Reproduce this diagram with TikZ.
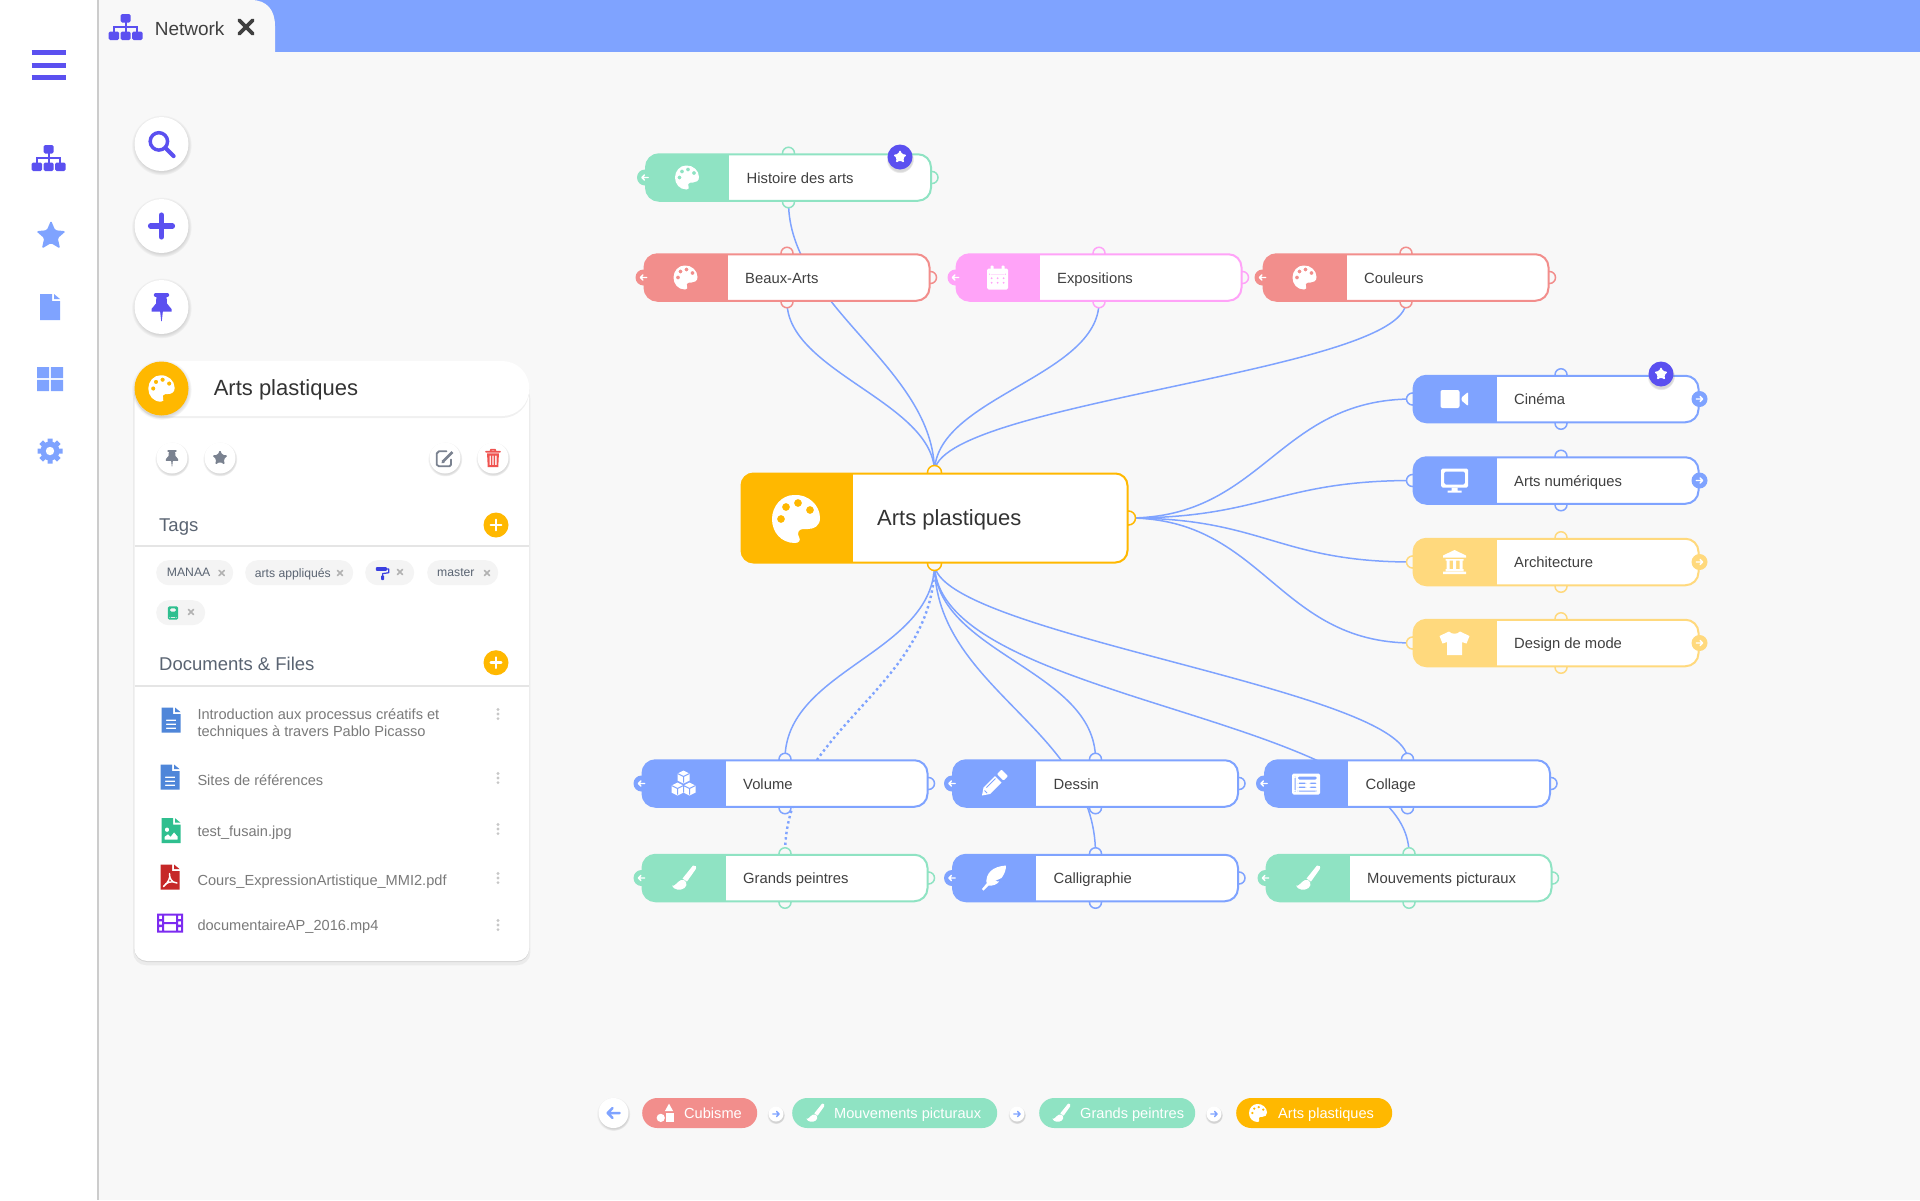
\documentclass[tikz,border=0pt]{standalone}
\usepackage{fontspec}
\setmainfont{Liberation Sans}
\usetikzlibrary{shadows}
\pgfdeclarelayer{links}
\pgfdeclarelayer{bumps}
\pgfsetlayers{links,bumps,main}
\definecolor{pagebg}{HTML}{F8F8F8}
\definecolor{mapblue}{HTML}{7FA3FF}
\definecolor{indigo}{HTML}{5B50F0}
\definecolor{mapgreen}{HTML}{8FE3C3}
\definecolor{mapred}{HTML}{F28E8C}
\definecolor{mappink}{HTML}{FFA3F8}
\definecolor{mapyellow}{HTML}{FFD97D}
\definecolor{amber}{HTML}{FFB800}
\definecolor{inktext}{HTML}{404040}
\definecolor{slatetext}{HTML}{5A6472}
\definecolor{filetext}{HTML}{7A7A7A}
\definecolor{chipgray}{HTML}{F4F4F4}
\definecolor{graybtn}{HTML}{7A8290}
\definecolor{docblue}{HTML}{4F86D9}
\definecolor{docgreen}{HTML}{2FBF8F}
\definecolor{docred}{HTML}{C62828}
\definecolor{docfilm}{HTML}{7C2BF0}
\definecolor{trashred}{HTML}{EF5350}
\definecolor{rollblue}{HTML}{3A3FE0}
\newcommand{\fsize}[1]{\fontsize{#1}{#1}\selectfont}
\def\icsize{1}
\tikzset{
	maplink/.style = {draw = mapblue, line width = 1.5pt},
	mapdots/.style = {draw = mapblue, line width = 2.4pt, dash pattern = on 2.4pt off 3pt},
	mapbox/.style 2 args = {rectangle, rounded corners = 13pt, inner sep = 0pt, minimum width = 285pt, minimum height = 46.5pt,
		fill = white, draw = #1, line width = 2pt,
		path picture = {\fill[#1, sharp corners] (path picture bounding box.south west) rectangle ([xshift = #2]path picture bounding box.north west);}},
	bump/.style = {circle, inner sep = 0pt, minimum size = 12pt, fill = pagebg, draw = #1, line width = 1.5pt},
	markdot/.style = {circle, inner sep = 0pt, minimum size = 16pt, fill = #1},
	maptext/.style = {anchor = west, inner sep = 0pt, text = inktext, font = \fsize{14.8}, text height = 11.6pt, text depth = 0pt},
	badge/.style = {circle, inner sep = 0pt, minimum size = 25pt, fill = indigo,
		circular drop shadow = {shadow scale = 1.12, shadow xshift = 0pt, shadow yshift = -2pt, opacity = .3}},
	roundbtn/.style = {circle, inner sep = 0pt, minimum size = #1, fill = white,
		circular drop shadow = {shadow scale = 1.12, shadow xshift = 0pt, shadow yshift = -1pt, opacity = .3}},
	plusdot/.style = {circle, inner sep = 0pt, minimum size = 25pt, fill = amber},
	paneltext/.style = {anchor = west, inner sep = 0pt, text = slatetext, font = \fsize{18.5}, text height = 13pt, text depth = 0pt},
	chip/.style = {anchor = west, rectangle, rounded corners = 12.5pt, inner sep = 0pt, minimum height = 25pt, fill = chipgray},
	chiptext/.style = {anchor = west, inner sep = 0pt, text = slatetext, font = \fsize{12.2}, text height = 8.8pt, text depth = 0pt},
	filename/.style = {anchor = west, inner sep = 0pt, text = filetext, font = \fsize{14.6}, text height = 10.5pt, text depth = 0pt},
	crumb/.style = {anchor = west, rectangle, rounded corners = 15pt, inner sep = 0pt, minimum height = 30pt, fill = #1},
	crumbtext/.style = {anchor = west, inner sep = 0pt, text = white, font = \fsize{14.6}, text height = 10.5pt, text depth = 0pt},
	crumbstep/.style = {circle, inner sep = 0pt, minimum size = 15pt, fill = white,
		circular drop shadow = {shadow scale = 1.18, shadow xshift = 0pt, shadow yshift = -1pt, opacity = .3}},
	% icons, all drawn in a box of about 24 by 24
	ic/.style = {scale = #1, /utils/exec = {\def\icsize{#1}}},
	lw/.style = {line width = #1*\icsize*1pt, line cap = round, line join = round},
	i-palette/.pic = {\fill[even odd rule] (-1, -12) .. controls (6, -12.5) and (12, -7) .. (12, -0.5) .. controls (12, 3.5) and (9, 5) .. (6, 5)
		-- (3.5, 5) .. controls (1, 5) and (0.5, 7.5) .. (1.5, 9) .. controls (2.5, 10.5) and (1.5, 12) .. (-0.5, 12)
		.. controls (-7.5, 12) and (-12, 6.5) .. (-12, 0) .. controls (-12, -6.5) and (-7, -12) .. (-1, -12) -- cycle
		(-7.5, 0) circle [radius = 2] (-5, -6) circle [radius = 2] (1, -8) circle [radius = 2] (7, -4.5) circle [radius = 2];},
	i-sitemap/.pic = {\fill[rounded corners = 1.5] (-5, -13) rectangle (5, -4.5) (-17, 4.5) rectangle (-6.5, 13) (-5, 4.5) rectangle (5, 13) (6.5, 4.5) rectangle (17, 13);
		\draw[line width = 2*\icsize*1pt] (0, -5) -- (0, 5) (-11.5, 5) -- (-11.5, 0) -- (11.5, 0) -- (11.5, 5);},
	i-star/.pic = {\fill[rounded corners = 1.5] (-90:13.5) -- (-54:6.2) -- (-18:13.5) -- (18:6.2) -- (54:13.5) -- (90:6.2) -- (126:13.5) -- (162:6.2) -- (198:13.5) -- (234:6.2) -- cycle;},
	i-file/.pic = {\fill[even odd rule] (-10, -13) -- (2, -13) -- (2, -6) -- (10, -6) -- (10, 13) -- (-10, 13) -- cycle;
		\fill (4, -13) -- (10, -8) -- (4, -8) -- cycle;},
	i-doc/.pic = {\fill[even odd rule] (-9.5, -12.5) -- (2, -12.5) -- (2, -6) -- (9.5, -6) -- (9.5, 12.5) -- (-9.5, 12.5) -- cycle
		(-5, -0.5) rectangle (5, 1) (-5, 3.5) rectangle (5, 5) (-5, 7.5) rectangle (5, 9);
		\fill (4, -12.5) -- (9.5, -8) -- (4, -8) -- cycle;},
	i-docimg/.pic = {\fill[even odd rule] (-9.5, -12.5) -- (2, -12.5) -- (2, -6) -- (9.5, -6) -- (9.5, 12.5) -- (-9.5, 12.5) -- cycle
		(-4, -1) circle [radius = 2.3] (-6.5, 9) -- (-6.5, 6) -- (-3, 3.5) -- (-0.5, 6) -- (3, 1.5) -- (6.5, 5.5) -- (6.5, 9) -- cycle;
		\fill (4, -12.5) -- (9.5, -8) -- (4, -8) -- cycle;},
	i-docpdf/.pic = {\fill (-9.5, -12.5) -- (2, -12.5) -- (2, -6) -- (9.5, -6) -- (9.5, 12.5) -- (-9.5, 12.5) -- cycle;
		\fill (4, -12.5) -- (9.5, -8) -- (4, -8) -- cycle;
		\draw[white, lw = 1.4] (-6.5, 9.5) .. controls (-2, 6) and (1, 0) .. (-0.5, -3.5) .. controls (-1, 1) and (2, 6) .. (7, 6) .. controls (2, 3.5) and (-4, 5) .. (-6.5, 9.5);},
	i-grid/.pic = {\fill (-13, -12) rectangle (-0.8, -0.8) (0.8, -12) rectangle (13, -0.8) (-13, 0.8) rectangle (-0.8, 12) (0.8, 0.8) rectangle (13, 12);},
	i-cog/.pic = {\draw[line width = 5*\icsize*1pt] (0:12.5) -- (180:12.5) (45:12.5) -- (225:12.5) (90:12.5) -- (270:12.5) (135:12.5) -- (315:12.5);
		\fill (0, 0) circle [radius = 9.5];
		\fill[white] (0, 0) circle [radius = 4.2];},
	i-search/.pic = {\draw[lw = 3.3] (-2.5, -2.5) circle [radius = 8.3];
		\draw[lw = 4] (3.8, 3.8) -- (11.5, 11.5);},
	i-plus/.pic = {\draw[lw = 4.6] (-9.5, 0) -- (9.5, 0) (0, -9.5) -- (0, 9.5);},
	i-pin/.pic = {\draw[lw = 3.4] (-6, -12) -- (6, -12);
		\fill (-5, -12) -- (5, -12) -- (5.5, -3.5) -- (10, 2) -- (10, 4.5) -- (-10, 4.5) -- (-10, 2) -- (-5.5, -3.5) -- cycle;
		\fill (-1.4, 4) -- (1.4, 4) -- (0.3, 14) -- (-0.3, 14) -- cycle;},
	i-bars/.pic = {\draw[line width = 5*\icsize*1pt, rounded corners = 1] (-17, -12.5) -- (17, -12.5) (-17, 0) -- (17, 0) (-17, 12.5) -- (17, 12.5);},
	i-times/.pic = {\draw[lw = 5] (-9, -9) -- (9, 9) (-9, 9) -- (9, -9);},
	i-left/.pic = {\draw[lw = 4] (10, 0) -- (-9, 0) (-1.5, -8) -- (-9.5, 0) -- (-1.5, 8);},
	i-right/.pic = {\draw[lw = 4] (-10, 0) -- (9, 0) (1.5, -8) -- (9.5, 0) -- (1.5, 8);},
	i-edit/.pic = {\draw[lw = 2.4] (2, -9) -- (-8, -9) -- (-11, -6) -- (-11, 9) -- (-8, 11) -- (6, 11) -- (8, 9) -- (8, 2);
		\draw[line width = 3.6*\icsize*1pt] (-2.5, 4.5) -- (10, -8);
		\fill (-4.5, 7) -- (-4, 2.5) -- (-0.5, 6.5) -- cycle;},
	i-trash/.pic = {\fill[even odd rule] (-8.5, -6.5) -- (8.5, -6.5) -- (7.5, 13) -- (-7.5, 13) -- cycle
		(-5, -3.5) rectangle (-3, 10) (-1, -3.5) rectangle (1, 10) (3, -3.5) rectangle (5, 10);
		\draw[lw = 2.4] (-10, -9) -- (10, -9) (-3.5, -9) -- (-3, -12) -- (3, -12) -- (3.5, -9);},
	i-calendar/.pic = {\fill[even odd rule, rounded corners = 1.5] (-10.5, -9) rectangle (10.5, 12)
		(-8.5, -3.5) rectangle (8.5, -3)
		(-7.5, -0.5) rectangle (-4.5, 2) (-1.5, -0.5) rectangle (1.5, 2) (4.5, -0.5) rectangle (7.5, 2)
		(-7.5, 4) rectangle (-4.5, 6.5) (-1.5, 4) rectangle (1.5, 6.5) (4.5, 4) rectangle (7.5, 6.5);
		\fill[rounded corners = 0.8] (-7, -12) rectangle (-4, -7) (4, -12) rectangle (7, -7);},
	i-video/.pic = {\fill[rounded corners = 2] (-14, -9) rectangle (5, 9);
		\fill[rounded corners = 1] (7, -1.5) -- (13.5, -7) -- (13.5, 7) -- (7, 1.5) -- cycle;},
	i-desktop/.pic = {\fill[even odd rule, rounded corners = 1.5] (-13.5, -12) rectangle (13.5, 7) (-10.5, -9) rectangle (10.5, 4);
		\fill (-3, 7) rectangle (3, 10) (-7, 10) rectangle (7, 12);},
	i-bank/.pic = {\fill (0, -12) -- (11.5, -6.5) -- (11.5, -4.5) -- (-11.5, -4.5) -- (-11.5, -6.5) -- cycle;
		\fill (-9, -3) rectangle (9, -1.5) (-8, -1.5) rectangle (-5, 7) (-1.5, -1.5) rectangle (1.5, 7) (5, -1.5) rectangle (8, 7) (-9, 7) rectangle (9, 9) (-11.5, 9.5) rectangle (11.5, 12);},
	i-shirt/.pic = {\fill (-5.5, -11.5) .. controls (-3, -8.5) and (3, -8.5) .. (5.5, -11.5) -- (15, -7) -- (12, 0.5) -- (7.5, -1) -- (7.5, 12) -- (-7.5, 12) -- (-7.5, -1) -- (-12, 0.5) -- (-15, -7) -- cycle;},
	i-cubes/.pic = {\fill (0, -13) -- (6, -10) -- (6, -3) -- (0, 0) -- (-6, -3) -- (-6, -10) -- cycle
		(-6, -1) -- (0, 2) -- (0, 9) -- (-6, 12) -- (-12, 9) -- (-12, 2) -- cycle
		(6, -1) -- (12, 2) -- (12, 9) -- (6, 12) -- (0, 9) -- (0, 2) -- cycle;
		\draw[mapblue, line width = 1*\icsize*1pt] (-6, -10) -- (0, -7) -- (6, -10) (0, -7) -- (0, -1) (-12, 2) -- (-6, 5) -- (0, 2) (-6, 5) -- (-6, 11) (0, 2) -- (6, 5) -- (12, 2) (6, 5) -- (6, 11) (0, 2) -- (0, 9);},
	i-pencil/.pic = {\fill (-12, 12) -- (-10.5, 4) -- (1, -7.5) -- (7.5, -1) -- (-4, 10.5) -- cycle;
		\fill[rounded corners = 1] (3, -9.5) -- (7.5, -14) -- (14, -7.5) -- (9.5, -3) -- cycle;
		\draw[mapblue, line width = 0.9*\icsize*1pt] (-9.5, 7) -- (-7, 9.5) (-7.5, 4) -- (1.5, -5);},
	i-newspaper/.pic = {\fill[even odd rule, rounded corners = 1.5] (-14, -10) rectangle (14, 11)
		(-8.5, -7) rectangle (11, -4) (-8.5, -1) rectangle (0.5, 0.5) (3, -1) rectangle (11, 0.5)
		(-8.5, 3) rectangle (0.5, 4.5) (3, 3) rectangle (11, 4.5) (-8.5, 7) rectangle (11, 8) (-11.5, -7) rectangle (-10.5, 8);},
	i-brush/.pic = {\fill (9.5, -12.5) .. controls (12, -13.5) and (13.5, -11) .. (12, -8.5) -- (3.5, 3.5) -- (-1, 0.5) -- cycle;
		\fill (-2.5, 2) .. controls (2.5, 0.5) and (5, 7) .. (1, 10) .. controls (-3, 13) and (-10, 12) .. (-11.5, 7.5) .. controls (-8.5, 9) and (-7, 4) .. (-2.5, 2) -- cycle;},
	i-feather/.pic = {\fill (12, -12.5) .. controls (-2, -11.5) and (-8.5, -4.5) .. (-7.5, 5.5) -- (-12, 11) -- (-10.5, 12.5) -- (-5.5, 7.5) .. controls (-1, 8) and (3, 6.5) .. (5, 3.5) -- (1, 3) -- (7.5, 0) .. controls (10.5, -4) and (12, -8) .. (12, -12.5) -- cycle;},
	i-roller/.pic = {\fill[rounded corners = 1] (-10, -9) rectangle (8, -3);
		\draw[lw = 2] (8, -6) -- (11, -6) -- (11, 0) -- (1, 1.5) -- (1, 4);
		\fill[rounded corners = 1] (-1.5, 4) rectangle (3.5, 12);},
	i-book/.pic = {\fill[even odd rule, rounded corners = 1.5] (-9.5, -12) rectangle (9.5, 12) (-6, -8.5) rectangle (6, -2.5) (-6.5, 7) rectangle (6.5, 9);},
	i-film/.pic = {\fill[even odd rule] (-13, -9.5) rectangle (13, 9.5)
		(-11, -7.5) rectangle (-8, -4) (-11, -1.7) rectangle (-8, 1.7) (-11, 4) rectangle (-8, 7.5)
		(8, -7.5) rectangle (11, -4) (8, -1.7) rectangle (11, 1.7) (8, 4) rectangle (11, 7.5)
		(-6, -7.5) rectangle (6, -1) (-6, 1) rectangle (6, 7.5);},
	i-shapes/.pic = {\fill (4, -12.5) -- (9.5, -2.5) -- (-1.5, -2.5) -- cycle;
		\fill (-7, 6.5) circle [radius = 5.5];
		\fill (-0.5, -0.5) rectangle (10, 12);},
	i-dots/.pic = {\fill (0, -4.6) circle [radius = 1.6] (0, 0) circle [radius = 1.6] (0, 4.6) circle [radius = 1.6];},
}
% one box of the map: [top bump shift] name, x, y, colour, label, icon
\newcommand{\mapnode}[7][0]{%
	\node[mapbox = {#5}{83pt}] (#2) at (#3, #4) {};
	\node[maptext] (#2-label) at ([xshift = 101.5pt]#2.west) {#6};
	\pic[white, ic = 1] at ([xshift = 42pt]#2.west) {#7};
	\begin{pgfonlayer}{bumps}
		\node[bump = #5] (#2-n) at ([xshift = #1pt]#2.north) {};
		\node[bump = #5] (#2-s) at ([xshift = #1pt]#2.south) {};
		\node[bump = #5] (#2-w) at (#2.west) {};
		\node[bump = #5] (#2-e) at (#2.east) {};
	\end{pgfonlayer}}
\newcommand{\backmark}[2]{\node[markdot = #2] (#1-back) at (#1.west) {}; \pic[white, ic = .33] at (#1-back) {i-left};}
\newcommand{\nextmark}[2]{\node[markdot = #2] (#1-next) at (#1.east) {}; \pic[white, ic = .33] at (#1-next) {i-right};}
\begin{document}
\begin{tikzpicture}[x = 1pt, y = -1pt]
	\useasboundingbox (0, 0) rectangle (1920, 1200);
	\begin{pgfonlayer}{links}
		\fill[pagebg] (0, 0) rectangle (1920, 1200);
		% side bar and tab
		\fill[white] (0, 0) rectangle (97, 1200);
		\fill[black!20] (97, 0) rectangle (99, 1200);
		\fill[mapblue] (250, 0) rectangle (1920, 52);
		\fill[pagebg] (99, 0) -- (251, 0) .. controls (267, 0) and (275, 10) .. (275, 26) -- (275, 52) -- (99, 52) -- cycle;
	\end{pgfonlayer}
	\pic[indigo, ic = 1] at (48.6, 65) {i-bars};
	\pic[indigo, ic = 1] at (48.6, 158) {i-sitemap};
	\pic[mapblue, ic = 1.15] at (51, 236) {i-star};
	\pic[mapblue, ic = 1] at (50, 307) {i-file};
	\pic[mapblue, ic = 1] at (50, 379) {i-grid};
	\pic[mapblue, ic = 1] at (50, 451) {i-cog};
	\pic[indigo, ic = 1] at (125.7, 27) {i-sitemap};
	\node[anchor = west, inner sep = 0pt, text = inktext, font = \fsize{19}] (tabname) at (154.6, 28.5) {Network};
	\pic[inktext, ic = .75] at (246, 27) {i-times};
	% round tools
	\node[roundbtn = 54pt] (search) at (161.5, 144) {};
	\pic[indigo, ic = 1.05] at (search) {i-search};
	\node[roundbtn = 54pt] (add) at (161.5, 226) {};
	\pic[indigo, ic = 1.15] at (add) {i-plus};
	\node[roundbtn = 54pt] (pin) at (161.5, 307) {};
	\pic[indigo, ic = 1] at (pin) {i-pin};
	% panel
	\node[rectangle, rounded corners = 13pt, inner sep = 0pt, minimum width = 395pt, minimum height = 576pt, fill = white,
		drop shadow = {shadow xshift = 0pt, shadow yshift = -2.5pt, shadow scale = 1.006, opacity = .05, fill = black},
		drop shadow = {shadow xshift = 0pt, shadow yshift = -1pt, opacity = .1, fill = black}] (panel) at (331.75, 673) {};
	\node[rectangle, rounded corners = 27pt, inner sep = 0pt, minimum width = 395pt, minimum height = 55pt, fill = white,
		drop shadow = {shadow xshift = 0pt, shadow yshift = -2pt, opacity = .06, fill = black}] (panelhead) at (331.75, 388.5) {};
	\node[circle, inner sep = 0pt, minimum size = 54pt, fill = amber,
		circular drop shadow = {shadow scale = 1.12, shadow xshift = 0pt, shadow yshift = -1pt, opacity = .3}] (panelicon) at (161.5, 388.5) {};
	\pic[white, ic = 1.1] at (panelicon) {i-palette};
	\node[anchor = west, inner sep = 0pt, text = black!80, font = \fsize{22}] (paneltitle) at (213.6, 390) {Arts plastiques};
	\node[roundbtn = 31pt] (btnpin) at (172, 458) {};
	\pic[graybtn, ic = .62] at (btnpin) {i-pin};
	\node[roundbtn = 31pt] (btnstar) at (220, 458) {};
	\pic[graybtn, ic = .62] at (btnstar) {i-star};
	\node[roundbtn = 31pt] (btnedit) at (445, 458) {};
	\pic[graybtn, ic = .75] at (btnedit) {i-edit};
	\node[roundbtn = 31pt] (btntrash) at (493, 458) {};
	\pic[trashred, ic = .7] at (btntrash) {i-trash};
	% tags
	\node[paneltext] (tagstitle) at (159, 525) {Tags};
	\node[plusdot] (tagsadd) at (496, 525) {};
	\pic[white, ic = .55] at (tagsadd) {i-plus};
	\draw[black!10, line width = 1.2pt] (134.7, 546) -- (529, 546);
	\node[chip, minimum width = 77pt] (tagmanaa) at (156, 572.7) {};
	\node[chiptext] (tagmanaa-t) at (166.7, 572) {MANAA};
	\pic[black!30, ic = .3] at (221.7, 573) {i-times};
	\node[chip, minimum width = 108pt] (tagarts) at (245, 572.7) {};
	\node[chiptext] (tagarts-t) at (254.7, 573) {arts appliqués};
	\pic[black!30, ic = .3] at (340, 573) {i-times};
	\node[chip, minimum width = 49pt] (tagroll) at (365, 572.7) {};
	\pic[rollblue, ic = .62] at (382, 572.7) {i-roller};
	\pic[black!30, ic = .3] at (400, 572) {i-times};
	\node[chip, minimum width = 71pt] (tagmaster) at (427, 572.7) {};
	\node[chiptext] (tagmaster-t) at (437, 572) {master};
	\pic[black!30, ic = .3] at (487, 573) {i-times};
	\node[chip, minimum width = 49pt] (tagbook) at (156, 612.7) {};
	\pic[docgreen, ic = .55] at (173, 613) {i-book};
	\pic[black!30, ic = .3] at (191, 612) {i-times};
	% documents
	\node[paneltext] (docstitle) at (159, 664) {Documents \& Files};
	\node[plusdot] (docsadd) at (496, 662.7) {};
	\pic[white, ic = .55] at (docsadd) {i-plus};
	\draw[black!10, line width = 1.2pt] (134.7, 686) -- (529, 686);
	\pic[docblue] at (171, 720) {i-doc};
	\node[anchor = west, inner sep = 0pt, align = left, text = filetext, font = \fontsize{14.6}{17.2}\selectfont] (doc1) at (197.3, 724) {Introduction aux processus créatifs et\\techniques à travers Pablo Picasso};
	\pic[black!22] at (498, 714) {i-dots};
	\pic[docblue] at (170, 777) {i-doc};
	\node[filename] (doc2) at (197.3, 780) {Sites de références};
	\pic[black!22] at (498, 778) {i-dots};
	\pic[docgreen] at (171, 830.7) {i-docimg};
	\node[filename] (doc3) at (197.3, 831) {test\_fusain.jpg};
	\pic[black!22] at (498, 829) {i-dots};
	\pic[docred] at (170, 877) {i-docpdf};
	\node[filename] (doc4) at (197.3, 880) {Cours\_ExpressionArtistique\_MMI2.pdf};
	\pic[black!22] at (498, 878) {i-dots};
	\pic[docfilm] at (170, 923) {i-film};
	\node[filename] (doc5) at (197.3, 925) {documentaireAP\_2016.mp4};
	\pic[black!22] at (498, 925) {i-dots};
	% the map boxes
	\node[mapbox = {amber}{111pt}, rounded corners = 12pt, minimum width = 386pt, minimum height = 89pt] (plast) at (934.5, 518) {};
	\pic[white, ic = 2] at (796, 519) {i-palette};
	\node[anchor = west, inner sep = 0pt, text = black!80, font = \fsize{22}] (plast-label) at (877, 520) {Arts plastiques};
	\begin{pgfonlayer}{bumps}
		\node[bump = amber, minimum size = 14pt] (plast-n) at (plast.north) {};
		\node[bump = amber, minimum size = 14pt] (plast-s) at (plast.south) {};
		\node[bump = amber, minimum size = 14pt] (plast-e) at (plast.east) {};
	\end{pgfonlayer}
	\mapnode{hist}{788.5}{177.5}{mapgreen}{Histoire des arts}{i-palette}
	\mapnode{beaux}{787}{277.5}{mapred}{Beaux-Arts}{i-palette}
	\mapnode{expo}{1099}{277.5}{mappink}{Expositions}{i-calendar}
	\mapnode{coul}{1406}{277.5}{mapred}{Couleurs}{i-palette}
	\mapnode[5]{cine}{1556}{399}{mapblue}{Cinéma}{i-video}
	\mapnode[5]{numer}{1556}{480.5}{mapblue}{Arts numériques}{i-desktop}
	\mapnode[5]{archi}{1556}{562}{mapyellow}{Architecture}{i-bank}
	\mapnode[5]{mode}{1556}{643}{mapyellow}{Design de mode}{i-shirt}
	\mapnode{volu}{785}{783.5}{mapblue}{Volume}{i-cubes}
	\mapnode{dess}{1095.5}{783.5}{mapblue}{Dessin}{i-pencil}
	\mapnode{colla}{1407.5}{783.5}{mapblue}{Collage}{i-newspaper}
	\mapnode{grand}{785}{878}{mapgreen}{Grands peintres}{i-brush}
	\mapnode{calli}{1095.5}{878}{mapblue}{Calligraphie}{i-feather}
	\mapnode{mouv}{1409}{878}{mapgreen}{Mouvements picturaux}{i-brush}
	\backmark{hist}{mapgreen}
	\backmark{beaux}{mapred}
	\backmark{expo}{mappink}
	\backmark{coul}{mapred}
	\backmark{volu}{mapblue}
	\backmark{dess}{mapblue}
	\backmark{colla}{mapblue}
	\backmark{grand}{mapgreen}
	\backmark{calli}{mapblue}
	\backmark{mouv}{mapgreen}
	\nextmark{cine}{mapblue}
	\nextmark{numer}{mapblue}
	\nextmark{archi}{mapyellow}
	\nextmark{mode}{mapyellow}
	\node[badge] (hist-star) at (900, 157) {};
	\pic[white, ic = .55] at (hist-star) {i-star};
	\node[badge] (cine-star) at (1661, 374) {};
	\pic[white, ic = .55] at (cine-star) {i-star};
	% links, under the boxes
	\begin{pgfonlayer}{links}
		\draw[maplink] (hist.south) .. controls +(0, 105) and +(0, -105) .. (plast.north);
		\draw[maplink] (beaux.south) .. controls +(0, 70) and +(0, -70) .. (plast.north);
		\draw[maplink] (expo.south) .. controls +(0, 75) and +(0, -75) .. (plast.north);
		\draw[maplink] (coul.south) .. controls +(0, 70) and +(0, -70) .. (plast.north);
		\draw[maplink] (plast.east) .. controls +(135, 0) and +(-135, 0) .. (cine.west);
		\draw[maplink] (plast.east) .. controls +(135, 0) and +(-135, 0) .. (numer.west);
		\draw[maplink] (plast.east) .. controls +(135, 0) and +(-135, 0) .. (archi.west);
		\draw[maplink] (plast.east) .. controls +(135, 0) and +(-135, 0) .. (mode.west);
		\draw[maplink] (plast.south) .. controls +(0, 90) and +(0, -90) .. (volu.north);
		\draw[mapdots] (plast.south) .. controls +(0, 125) and +(0, -125) .. (grand.north);
		\draw[maplink] (plast.south) .. controls +(0, 90) and +(0, -90) .. (dess.north);
		\draw[maplink] (plast.south) .. controls +(0, 125) and +(0, -125) .. (calli.north);
		\draw[maplink] (plast.south) .. controls +(0, 70) and +(0, -70) .. (colla.north);
		\draw[maplink] (plast.south) .. controls +(0, 140) and +(0, -140) .. (mouv.north);
	\end{pgfonlayer}
	% path at the bottom
	\node[roundbtn = 30pt] (crumbback) at (613.5, 1113) {};
	\pic[mapblue, ic = .62] at (crumbback) {i-left};
	\node[crumb = mapred, minimum width = 115pt] (crumb1) at (642, 1113) {};
	\pic[white, ic = .75] at (666, 1113) {i-shapes};
	\node[crumbtext] (crumb1-t) at (684, 1113) {Cubisme};
	\node[crumbstep] (step1) at (776, 1114) {};
	\pic[mapblue, ic = .33] at (step1) {i-right};
	\node[crumb = mapgreen, minimum width = 205pt] (crumb2) at (792, 1113) {};
	\pic[white, ic = .75] at (815, 1113) {i-brush};
	\node[crumbtext] (crumb2-t) at (834, 1113) {Mouvements picturaux};
	\node[crumbstep] (step2) at (1017, 1114) {};
	\pic[mapblue, ic = .33] at (step2) {i-right};
	\node[crumb = mapgreen, minimum width = 156pt] (crumb3) at (1039, 1113) {};
	\pic[white, ic = .75] at (1061, 1113) {i-brush};
	\node[crumbtext] (crumb3-t) at (1080, 1113) {Grands peintres};
	\node[crumbstep] (step3) at (1214, 1114) {};
	\pic[mapblue, ic = .33] at (step3) {i-right};
	\node[crumb = amber, minimum width = 156pt] (crumb4) at (1236, 1113) {};
	\pic[white, ic = .75] at (1258, 1113) {i-palette};
	\node[crumbtext] (crumb4-t) at (1278, 1113) {Arts plastiques};
\end{tikzpicture}
\end{document}
